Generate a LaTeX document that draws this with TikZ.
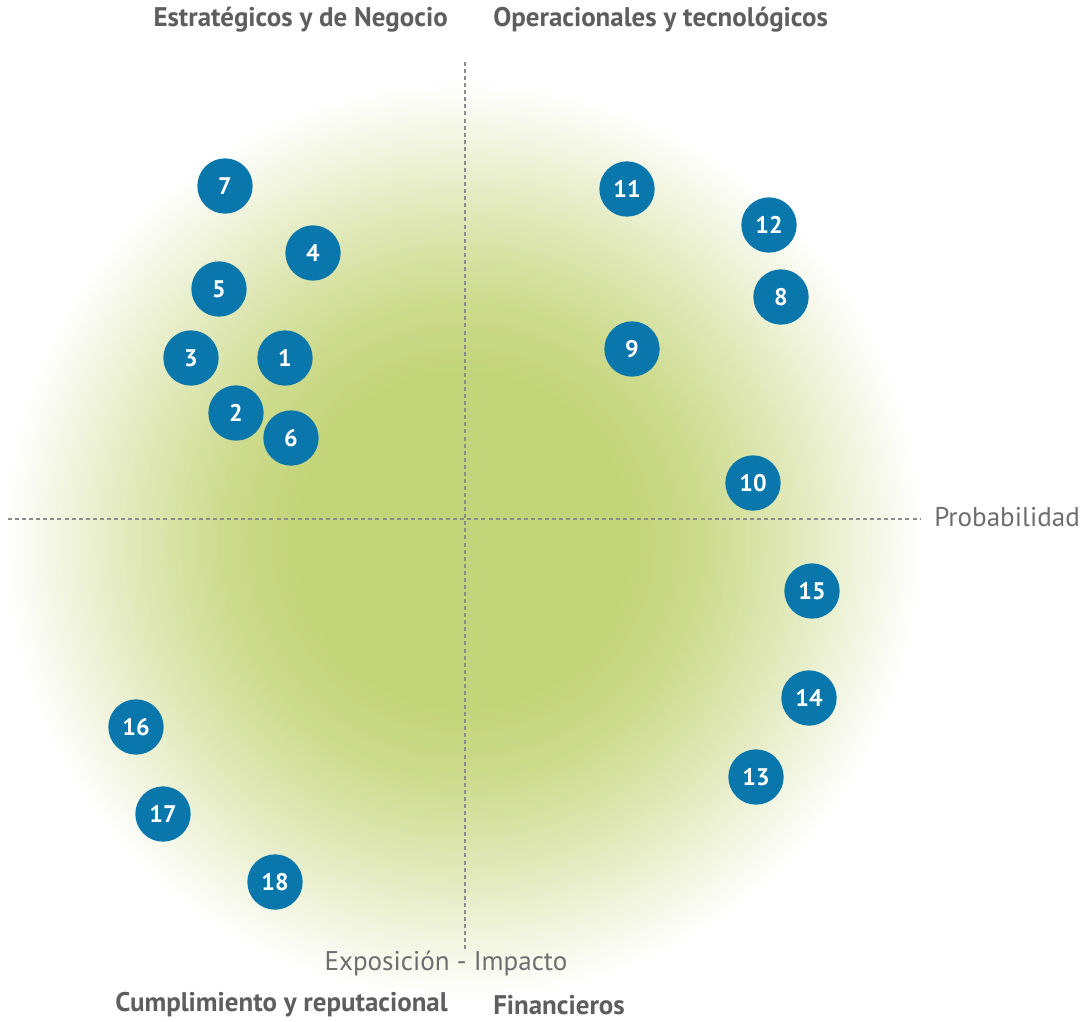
\documentclass[tikz,border=0pt]{standalone}
\usepackage{fontspec}
\setmainfont{PT Sans}
\definecolor{glowc}{HTML}{C4D478}
\colorlet{glowa}{glowc!85!white}
\colorlet{glowb}{glowc!52!white}
\colorlet{glowd}{glowc!20!white}
\definecolor{dotblue}{HTML}{0A77AC}
\definecolor{txtgray}{HTML}{5E5E5E}
\definecolor{lblgray}{HTML}{6E6E6E}
\definecolor{axgray}{HTML}{8C8C8C}
\pgfdeclareradialshading{glow}{\pgfpoint{0bp}{0bp}}{color(0bp)=(glowc); color(9bp)=(glowc); color(13bp)=(glowa); color(18bp)=(glowb); color(22.3bp)=(glowd); color(25bp)=(white); color(50bp)=(white)}
\tikzset{
  dot/.style={circle, fill=dotblue, minimum size=41.5pt, inner sep=0pt, text=white,
    font=\bfseries\fontsize{18}{18}\selectfont},
  quadtitle/.style={text=txtgray, inner sep=0pt, font=\bfseries\fontsize{20.2}{20.2}\selectfont},
  axlabel/.style={text=lblgray, inner sep=0pt, font=\fontsize{20.3}{20.3}\selectfont},
  axisline/.style={draw=axgray, line width=1.4pt, dash pattern=on 3pt off 2.3pt}
}
\begin{document}
\begin{tikzpicture}[x=0.75pt,y=-0.75pt]
\useasboundingbox (0,0) rectangle (1091,1021);
\fill[white] (0,0) rectangle (1091,1021);
\shade[shading=glow] (463,540) circle (458);

% axes
\coordinate (vtop) at (465,62);
\coordinate (vbot) at (465,952);
\coordinate (hleft) at (8,519);
\coordinate (hright) at (920,519);
\draw[axisline] (vtop) -- (vbot);
\draw[axisline] (hleft) -- (hright);

% titles
\node[quadtitle, anchor=east] (t1) at (448,20) {Estratégicos y de Negocio};
\node[quadtitle, anchor=west] (t2) at (493,20) {Operacionales y tecnológicos};
\node[quadtitle, anchor=east] (t3) at (448,1005) {Cumplimiento y reputacional};
\node[quadtitle, anchor=west] (t4) at (493,1005) {Financieros};

% axis labels
\node[axlabel, anchor=west] (prob) at (934,517) {Probabilidad};
\node[axlabel] (expo) at (446,963) {Exposición - Impacto};

% risks
\node[dot] (r7) at (225,186) {7};
\node[dot] (r4) at (313,253) {4};
\node[dot] (r5) at (219,289) {5};
\node[dot] (r3) at (191,358) {3};
\node[dot] (r1) at (285,358) {1};
\node[dot] (r2) at (236,413) {2};
\node[dot] (r6) at (291,438) {6};
\node[dot] (r11) at (627,189) {11};
\node[dot] (r12) at (769,225) {12};
\node[dot] (r8) at (781,297) {8};
\node[dot] (r9) at (632,349) {9};
\node[dot] (r10) at (753,483) {10};
\node[dot] (r15) at (812,591) {15};
\node[dot] (r14) at (809,698) {14};
\node[dot] (r13) at (756,777) {13};
\node[dot] (r16) at (136,727) {16};
\node[dot] (r17) at (163,814) {17};
\node[dot] (r18) at (275,882) {18};
\end{tikzpicture}
\end{document}
